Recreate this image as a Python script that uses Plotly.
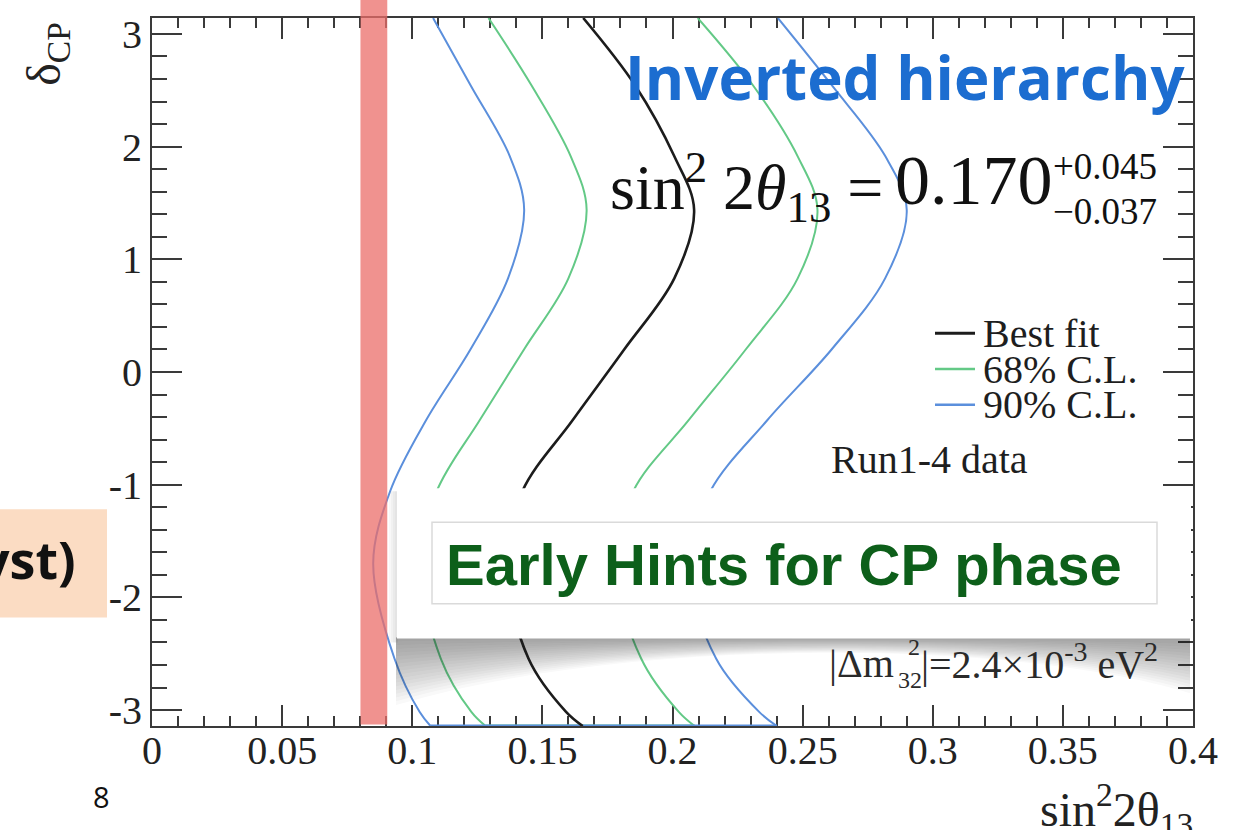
import plotly.graph_objects as go

# ---------------------------------------------------------------- data
delta_cp = [3.1416, 2.545, 1.914, 1.44, 0.831, 0.202, -0.428, -1.058, -1.70, -2.545, -3.016, -3.1416]
best_fit = [0.1657, 0.1856, 0.2007, 0.2083, 0.2007, 0.1815, 0.1616, 0.1423, 0.1360, 0.1447, 0.1591, 0.1655]
cl68_low = [0.1293, 0.1458, 0.1609, 0.1670, 0.1600, 0.1430, 0.1259, 0.1094, 0.1030, 0.1110, 0.1227, 0.1282]
cl68_high = [0.2097, 0.2309, 0.2481, 0.2557, 0.2481, 0.2282, 0.2062, 0.1849, 0.1780, 0.1880, 0.2024, 0.2085]
cl90_low = [0.1080, 0.1224, 0.1375, 0.1430, 0.1368, 0.1224, 0.1053, 0.0915, 0.0850, 0.0932, 0.1028, 0.1070]
cl90_high = [0.2405, 0.2612, 0.2818, 0.2900, 0.2817, 0.2612, 0.2364, 0.2145, 0.2060, 0.2168, 0.2333, 0.2401]

reactor_band = [0.0801, 0.0904]   # highlighted sin^2 2theta13 interval

x_tickvals = [0, 0.05, 0.1, 0.15, 0.2, 0.25, 0.3, 0.35, 0.4]
x_ticktext = ["0", "0.05", "0.1", "0.15", "0.2", "0.25", "0.3", "0.35", "0.4"]
y_tickvals = [-3, -2, -1, 0, 1, 2, 3]
y_ticktext = ["-3", "-2", "-1", "0", "1", "2", "3"]

legend_names = ["Best fit", "68% C.L.", "90% C.L."]

# ---------------------------------------------------------------- page geometry
W, H = 1240, 830
ML, MR, MT, MB = 152, 47, 14, 104
PW = W - ML - MR
PH = H - MT - MB

def fx(p):
    """page pixel column -> paper fraction"""
    return (p - ML) / PW

def fy(p):
    """page pixel row -> paper fraction"""
    return (H - MB - p) / PH

SERIF = "Liberation Serif"
AX = "#3a3a3a"
BLACK = "#1c1c1c"
GREEN = "#63c986"
BLUE = "#5b8fdc"

fig = go.Figure()

def branch(xs, color, width, name):
    fig.add_trace(go.Scatter(x=xs, y=delta_cp, mode="lines", name=name,
                             line=dict(color=color, width=width, shape="spline", smoothing=1.0),
                             showlegend=False, hoverinfo="skip"))

def closing(lo, hi, color, width):
    fig.add_trace(go.Scatter(x=[lo[-1], hi[-1]], y=[delta_cp[-1], delta_cp[-1]], mode="lines",
                             line=dict(color=color, width=width), showlegend=False, hoverinfo="skip"))

# 68% contour
branch(cl68_low, GREEN, 2, legend_names[1])
branch(cl68_high, GREEN, 2, legend_names[1])
closing(cl68_low, cl68_high, GREEN, 3)
# 90% contour
branch(cl90_low, BLUE, 2, legend_names[2])
branch(cl90_high, BLUE, 2, legend_names[2])
closing(cl90_low, cl90_high, BLUE, 3)
# best fit
branch(best_fit, BLACK, 2.6, legend_names[0])

shapes = []
annotations = []

# highlighted band (runs up past the frame to the page top)
shapes.append(dict(type="rect", xref="x", yref="paper", x0=reactor_band[0], x1=reactor_band[1],
                   y0=0.002, y1=fy(-6), fillcolor="rgb(235,110,106)", opacity=0.75,
                   line=dict(width=0), layer="above"))

# legend samples and labels
legend_rows = [331, 367, 403]
legend_colors = [BLACK, GREEN, BLUE]
for name, row, col in zip(legend_names, legend_rows, legend_colors):
    shapes.append(dict(type="line", xref="paper", yref="paper", x0=fx(935), x1=fx(975),
                       y0=fy(row), y1=fy(row), line=dict(color=col, width=3 if col == BLACK else 2.5)))
    annotations.append(dict(text=name, x=fx(981), y=fy(row), xanchor="left", yanchor="middle",
                            font=dict(family=SERIF, size=40, color="#1e1e1e")))

annotations.append(dict(text="Run1-4 data", x=fx(829), y=fy(458), xanchor="left", yanchor="middle",
                        font=dict(family=SERIF, size=40, color="#1e1e1e")))

# title inside the frame
annotations.append(dict(text="<b>Inverted hierarchy</b>", x=fx(623), y=fy(73), xanchor="left",
                        yanchor="middle", font=dict(family="Open Sans", size=60, color="#1c6dd0")))

# fitted value
annotations.append(dict(text="sin<sup>2</sup> 2<i>θ</i><sub>13</sub> =", x=fx(885), y=fy(184),
                        xanchor="right", yanchor="middle",
                        font=dict(family=SERIF, size=64, color="#111111")))
annotations.append(dict(text="0.170", x=fx(893), y=fy(177), xanchor="left", yanchor="middle",
                        font=dict(family=SERIF, size=70, color="#111111")))
annotations.append(dict(text="+0.045", x=fx(1051), y=fy(163), xanchor="left", yanchor="middle",
                        font=dict(family=SERIF, size=37, color="#111111")))
annotations.append(dict(text="\u22120.037", x=fx(1051), y=fy(209), xanchor="left", yanchor="middle",
                        font=dict(family=SERIF, size=37, color="#111111")))

# mass splitting label
annotations.append(dict(text="|Δm", x=fx(827), y=fy(663), xanchor="left", yanchor="middle",
                        font=dict(family=SERIF, size=40, color="#2a2a2a")))
annotations.append(dict(text="2", x=fx(914), y=fy(647), xanchor="center", yanchor="middle",
                        font=dict(family=SERIF, size=24, color="#2a2a2a")))
annotations.append(dict(text="32", x=fx(910), y=fy(680), xanchor="center", yanchor="middle",
                        font=dict(family=SERIF, size=24, color="#2a2a2a")))
annotations.append(dict(text="|=2.4×10<sup>-3</sup> eV<sup>2</sup>", x=fx(919), y=fy(661),
                        xanchor="left", yanchor="middle",
                        font=dict(family=SERIF, size=40, color="#2a2a2a")))

# callout box with its curled shadow
n_layers = 18
for i in range(n_layers):
    k = (n_layers - i) / n_layers
    hl, hr = 68 * k, 56 * k
    path = (f"M {fx(396)},{fy(637)} L {fx(1190)},{fy(637)} L {fx(1190)},{fy(637 + hr)} "
            f"C {fx(1010)},{fy(637)} {fx(620)},{fy(637)} {fx(396)},{fy(637 + hl)} Z")
    shapes.append(dict(type="path", xref="paper", yref="paper", path=path,
                       fillcolor="#333333", opacity=0.028, line=dict(width=0), layer="above"))
for i in range(4):
    shapes.append(dict(type="rect", xref="paper", yref="paper", x0=fx(389 + 2 * i), x1=fx(398),
                       y0=fy(642), y1=fy(490), fillcolor="#888888", opacity=0.06,
                       line=dict(width=0), layer="above"))
shapes.append(dict(type="rect", xref="paper", yref="paper", x0=fx(397), x1=fx(1191), y0=fy(638), y1=fy(487),
                   fillcolor="white", line=dict(width=0), layer="above"))
shapes.append(dict(type="rect", xref="paper", yref="paper", x0=fx(432), x1=fx(1157), y0=fy(603), y1=fy(521),
                   fillcolor="rgba(0,0,0,0)", line=dict(color="#dadada", width=1.5), layer="above"))
annotations.append(dict(text="<b>Early Hints for CP phase</b>", x=fx(444), y=fy(564), xanchor="left",
                        yanchor="middle", font=dict(family="Liberation Sans", size=58, color="#0d5f1a")))

# slide decorations outside the frame
shapes.append(dict(type="rect", xref="paper", yref="paper", x0=fx(-2), x1=fx(107), y0=fy(617), y1=fy(508),
                   fillcolor="#fbdcc3", line=dict(width=0), layer="above"))
annotations.append(dict(text="<b>yst)</b>", x=fx(78), y=fy(558), xanchor="right", yanchor="middle",
                        font=dict(family="Open Sans", size=52, color="#111111")))
annotations.append(dict(text="8", x=fx(101), y=fy(797), xanchor="center", yanchor="middle",
                        font=dict(family="Open Sans", size=29, color="#111111")))

# axis titles, placed at the frame ends
annotations.append(dict(text="δ<sub>CP</sub>", x=fx(47), y=fy(50), xanchor="center", yanchor="middle",
                        textangle=-90, font=dict(family=SERIF, size=48, color="#222222")))
annotations.append(dict(text="sin<sup>2</sup>2θ<sub>13</sub>", x=fx(1195), y=fy(810), xanchor="right",
                        yanchor="middle", font=dict(family=SERIF, size=48, color="#222222")))

for a in annotations:
    a.setdefault("xref", "paper")
    a.setdefault("yref", "paper")
    a["showarrow"] = False

common_axis = dict(showline=True, linecolor=AX, linewidth=2, mirror="allticks", ticks="inside",
                   tickwidth=2, tickcolor=AX, showgrid=False, zeroline=False,
                   tickfont=dict(family=SERIF, size=40, color="#222222"), layer="below traces")

fig.update_layout(
    width=W, height=H,
    margin=dict(l=ML, r=MR, t=MT, b=MB),
    paper_bgcolor="white", plot_bgcolor="white",
    showlegend=False,
    xaxis=dict(range=[0, 0.4], tickmode="array", tickvals=x_tickvals, ticktext=x_ticktext, ticklen=21,
               ticklabelstandoff=-12,
               minor=dict(ticks="inside", ticklen=10, tickwidth=2, tickcolor=AX, tick0=0, dtick=0.01),
               **common_axis),
    yaxis=dict(range=[-3.1416, 3.1416], tickmode="array", tickvals=y_tickvals, ticktext=y_ticktext,
               ticklen=30,
               minor=dict(ticks="inside", ticklen=15, tickwidth=2, tickcolor=AX, tick0=0, dtick=0.2),
               **common_axis),
    shapes=shapes,
    annotations=annotations,
)

fig.write_html("out.html")
